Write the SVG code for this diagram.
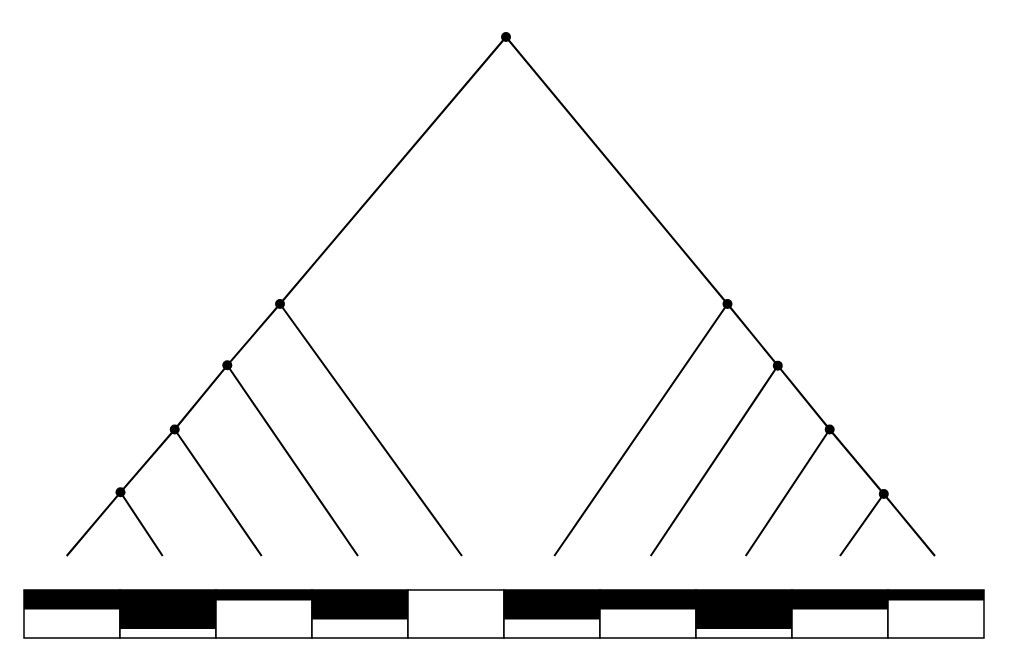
<svg xmlns="http://www.w3.org/2000/svg" width="1012" height="664" viewBox="0 0 1012 664">
<style>
.e{stroke:#000;stroke-width:2;fill:none;stroke-linecap:butt}
.n{fill:#000}
.cell{fill:#fff;stroke:#000;stroke-width:1.5}
.fill{fill:#000}
</style>
<rect width="1012" height="664" fill="#fff"/>
<g id="connectors">
<line class="e" x1="506" y1="37" x2="280" y2="304"/>
<line class="e" x1="506" y1="37" x2="727.5" y2="304"/>
<line class="e" x1="280" y1="304" x2="227.3" y2="365.3"/>
<line class="e" x1="280" y1="304" x2="462" y2="556"/>
<line class="e" x1="227.3" y1="365.3" x2="174.7" y2="429.5"/>
<line class="e" x1="227.3" y1="365.3" x2="358" y2="556"/>
<line class="e" x1="174.7" y1="429.5" x2="120.5" y2="492.3"/>
<line class="e" x1="174.7" y1="429.5" x2="261.7" y2="556"/>
<line class="e" x1="120.5" y1="492.3" x2="66.7" y2="556"/>
<line class="e" x1="120.5" y1="492.3" x2="162.7" y2="556"/>
<line class="e" x1="727.5" y1="304" x2="554.3" y2="556"/>
<line class="e" x1="727.5" y1="304" x2="777.8" y2="365.7"/>
<line class="e" x1="777.8" y1="365.7" x2="650.7" y2="556"/>
<line class="e" x1="777.8" y1="365.7" x2="829.7" y2="429.5"/>
<line class="e" x1="829.7" y1="429.5" x2="745.7" y2="556"/>
<line class="e" x1="829.7" y1="429.5" x2="883.8" y2="494"/>
<line class="e" x1="883.8" y1="494" x2="840" y2="556"/>
<line class="e" x1="883.8" y1="494" x2="935" y2="556"/>
</g>
<g id="root"><circle class="n" cx="506" cy="37" r="5"/></g>
<g id="nodeL1"><circle class="n" cx="280" cy="304" r="5"/></g>
<g id="nodeL2"><circle class="n" cx="227.3" cy="365.3" r="5"/></g>
<g id="nodeL3"><circle class="n" cx="174.7" cy="429.5" r="5"/></g>
<g id="nodeL4"><circle class="n" cx="120.5" cy="492.3" r="5"/></g>
<g id="nodeR1"><circle class="n" cx="727.5" cy="304" r="5"/></g>
<g id="nodeR2"><circle class="n" cx="777.8" cy="365.7" r="5"/></g>
<g id="nodeR3"><circle class="n" cx="829.7" cy="429.5" r="5"/></g>
<g id="nodeR4"><circle class="n" cx="883.8" cy="494" r="5"/></g>
<g id="bar">
<rect class="cell" x="24" y="590" width="96" height="48"/>
<rect class="fill" x="24" y="590" width="96" height="19.5"/>
<rect class="cell" x="120" y="590" width="96" height="48"/>
<rect class="fill" x="120" y="590" width="96" height="39"/>
<rect class="cell" x="216" y="590" width="96" height="48"/>
<rect class="fill" x="216" y="590" width="96" height="10.5"/>
<rect class="cell" x="312" y="590" width="96" height="48"/>
<rect class="fill" x="312" y="590" width="96" height="29.5"/>
<rect class="cell" x="408" y="590" width="96" height="48"/>
<rect class="cell" x="504" y="590" width="96" height="48"/>
<rect class="fill" x="504" y="590" width="96" height="29.5"/>
<rect class="cell" x="600" y="590" width="96" height="48"/>
<rect class="fill" x="600" y="590" width="96" height="19.5"/>
<rect class="cell" x="696" y="590" width="96" height="48"/>
<rect class="fill" x="696" y="590" width="96" height="39"/>
<rect class="cell" x="792" y="590" width="96" height="48"/>
<rect class="fill" x="792" y="590" width="96" height="19.5"/>
<rect class="cell" x="888" y="590" width="96" height="48"/>
<rect class="fill" x="888" y="590" width="96" height="10.5"/>
</g>
</svg>
